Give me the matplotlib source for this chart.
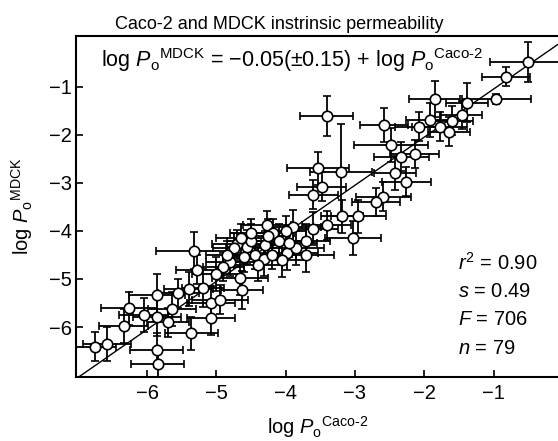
import numpy as np
import matplotlib
matplotlib.use("Agg")
import matplotlib.pyplot as plt

plt.rcParams["font.family"] = ["Liberation Sans", "DejaVu Sans"]
plt.rcParams["mathtext.fontset"] = "custom"
plt.rcParams["mathtext.rm"] = "Liberation Sans"
plt.rcParams["mathtext.it"] = "Liberation Sans:italic"

# log Po Caco-2 (x), log Po MDCK (y) with error estimates
caco2 = [-0.50, -0.82, -1.85, -1.38, -0.96, -3.41, -2.58, -1.60, -1.46, -1.78,
         -1.92, -1.64, -2.07, -2.48, -2.33, -2.14, -2.42, -2.26, -2.59, -3.20,
         -3.53, -3.48, -3.60, -3.19, -3.89, -3.41, -5.32, -4.27, -4.18, -3.98,
         -4.80, -4.66, -4.63, -5.40, -5.86, -6.26, -5.64, -5.08, -4.95, -5.19,
         -5.08, -5.86, -6.34, -5.36, -6.75, -6.58, -5.86, -5.85, -4.71, -4.56,
         -4.44, -4.32, -3.03, -3.71, -5.28, -4.75, -4.50, -4.30, -4.10, -4.00,
         -3.85, -4.60, -4.40, -4.20, -3.70, -4.90, -5.00, -4.85, -3.95, -4.05,
         -4.50, -3.60, -5.55, -6.05, -5.70, -2.95, -2.70, -4.25, -4.65]
mdck = [-0.49, -0.79, -1.26, -1.33, -1.26, -1.61, -1.80, -1.71, -1.59, -1.83,
        -1.69, -1.94, -1.83, -2.21, -2.46, -2.40, -2.79, -2.98, -3.29, -2.77,
        -2.70, -3.08, -3.25, -3.70, -3.91, -3.88, -4.41, -3.88, -4.05, -4.46,
        -4.64, -4.98, -5.23, -5.21, -5.33, -5.61, -5.63, -5.49, -5.43, -5.19,
        -5.82, -5.78, -5.98, -6.13, -6.41, -6.35, -6.47, -6.77, -4.28, -4.33,
        -4.50, -4.59, -4.15, -4.20, -4.81, -4.35, -4.20, -4.30, -4.20, -4.00,
        -4.35, -4.55, -4.70, -4.50, -4.50, -4.75, -4.90, -4.50, -4.25, -4.60,
        -4.05, -3.95, -5.30, -5.75, -5.90, -3.70, -3.40, -4.10, -4.15]
caco2_err = [0.55, 0.35, 0.37, 0.30, 0.50, 0.38, 0.35, 0.30, 0.30, 0.40,
             0.35, 0.30, 0.35, 0.54, 0.40, 0.35, 0.30, 0.35, 0.40, 0.45,
             0.45, 0.35, 0.35, 0.30, 0.40, 0.35, 0.55, 0.35, 0.30, 0.45,
             0.35, 0.40, 0.30, 0.35, 0.40, 0.40, 0.35, 0.35, 0.40, 0.30,
             0.35, 0.35, 0.35, 0.38, 0.30, 0.35, 0.38, 0.38, 0.35, 0.30,
             0.35, 0.30, 0.40, 0.35, 0.30, 0.30, 0.35, 0.30, 0.35, 0.30,
             0.40, 0.30, 0.35, 0.35, 0.40, 0.30, 0.35, 0.30, 0.40, 0.35,
             0.30, 0.35, 0.30, 0.35, 0.30, 0.40, 0.35, 0.30, 0.35]
mdck_err = [0.42, 0.20, 0.38, 0.40, 0.10, 0.42, 0.35, 0.30, 0.30, 0.30,
            0.35, 0.30, 0.30, 0.35, 0.30, 0.30, 0.35, 0.30, 0.30, 1.00,
            0.35, 0.30, 0.30, 0.35, 0.35, 0.30, 0.38, 0.30, 0.30, 0.35,
            0.30, 0.35, 0.40, 0.35, 0.43, 0.35, 0.35, 0.35, 0.30, 0.40,
            0.35, 0.40, 0.35, 0.35, 0.30, 0.35, 0.35, 0.30, 0.30, 0.35,
            0.30, 0.35, 0.36, 0.35, 0.30, 0.30, 0.35, 0.30, 0.35, 0.30,
            0.35, 0.30, 0.35, 0.30, 0.35, 0.30, 0.35, 0.30, 0.30, 0.35,
            0.30, 0.35, 0.30, 0.35, 0.30, 0.35, 0.30, 0.35, 0.30]

intercept = -0.05
x_ticks = [-6, -5, -4, -3, -2, -1]
y_ticks = [-6, -5, -4, -3, -2, -1]

# superscript placed after the subscript, as in the original typesetting
lbl_mdck = r"log $\mathit{P}_{\mathrm{o}}{}^{\mathrm{MDCK}}$"
lbl_caco = r"log $\mathit{P}_{\mathrm{o}}{}^{\mathrm{Caco\text{-}2}}$"

fig = plt.figure(figsize=(5.58, 4.41), dpi=100)
ax = fig.add_axes([0.137, 0.146, 0.863, 0.772])

line_x = np.array([-7.1, 0.1])
ax.plot(line_x, line_x + intercept, color="black", lw=1.0, zorder=1)

ax.errorbar(caco2, mdck, xerr=caco2_err, yerr=mdck_err, fmt="o",
            color="black", ecolor="black", elinewidth=1.3, capsize=3,
            capthick=1.3, markersize=7.5, markerfacecolor="white",
            markeredgecolor="black", markeredgewidth=1.2, zorder=2)

ax.set_xlim(-7.02, -0.07)
ax.set_ylim(-7.03, 0.05)
ax.set_xticks(x_ticks)
ax.set_yticks(y_ticks)
ax.set_xticklabels([f"\u2212{abs(t)}" for t in x_ticks])
ax.set_yticklabels([f"\u2212{abs(t)}" for t in y_ticks])
ax.tick_params(direction="in", length=5, width=1.2, labelsize=14.5)
ax.tick_params(axis="x", pad=5.5)
ax.tick_params(axis="y", pad=3)
ax.spines["right"].set_visible(False)
for s in ["left", "bottom", "top"]:
    ax.spines[s].set_linewidth(1.5)

ax.set_xlabel(lbl_caco, fontsize=14.5, labelpad=8)
ax.set_ylabel(lbl_mdck, fontsize=14.5, labelpad=10)
fig.text(0.5, 1 - 29 / 441, "Caco-2 and MDCK instrinsic permeability",
         fontsize=13, ha="center", va="baseline")

ax.text(0.051, 0.970,
        lbl_mdck + r" = $-$0.05($\pm$0.15) + " + lbl_caco,
        transform=ax.transAxes, fontsize=15.5, va="top", ha="left")

stats = [r"$\mathit{r}^2$ = 0.90", r"$\mathit{s}$ = 0.49",
         r"$\mathit{F}$ = 706", r"$\mathit{n}$ = 79"]
for i, txt in enumerate(stats):
    ax.text(0.792, 0.334 - i * 0.0835, txt, transform=ax.transAxes,
            fontsize=14.5, va="center", ha="left")

fig.savefig("out.png", dpi=100)
